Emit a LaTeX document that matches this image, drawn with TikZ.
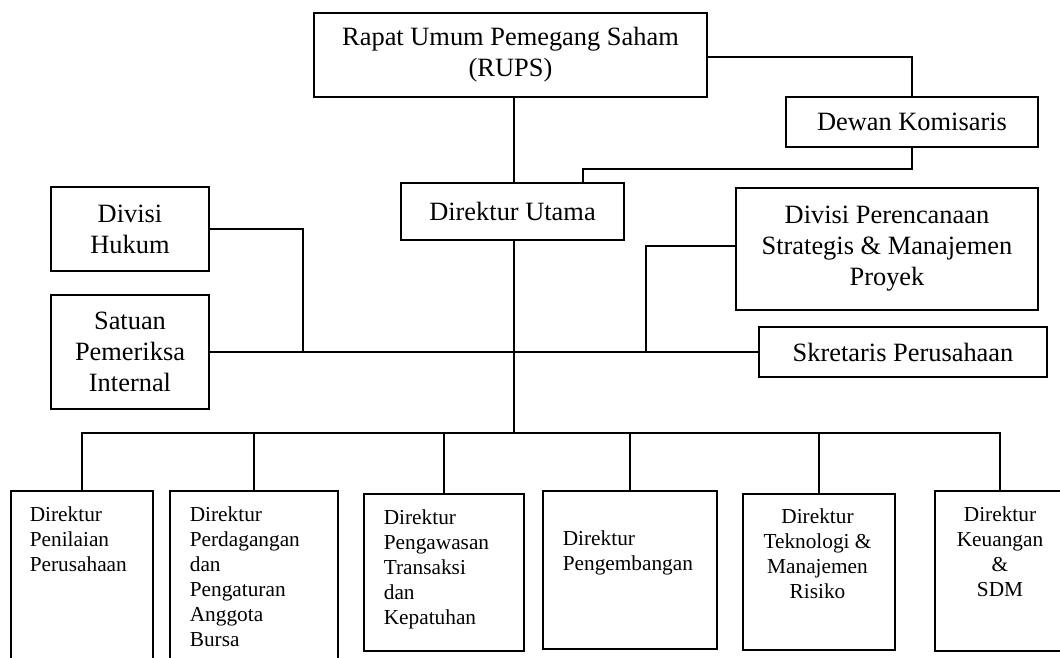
\documentclass[tikz,border=0pt]{standalone}
\usepackage{fontspec}
\setmainfont{Liberation Serif}
\begin{document}
\begin{tikzpicture}[x=1pt,y=-1pt,
  line width=1.7pt,
  box/.style={draw, rectangle, inner sep=0pt, align=center,
    font=\fontsize{26.4}{31}\selectfont},
  dirbox/.style={draw, rectangle, inner sep=0pt, anchor=north west},
  dirtext/.style={inner sep=0pt, font=\fontsize{21.3}{25}\selectfont},
]
\useasboundingbox (0,0) rectangle (1060,657);
\clip (0,0) rectangle (1060,657);

% upper level
\node[box, minimum width=393pt, minimum height=84pt] (rups) at (510.5,55)
  {Rapat Umum Pemegang Saham\\(RUPS)};
\node[box, minimum width=252pt, minimum height=50pt] (dk) at (912,122)
  {Dewan Komisaris};
\node[box, minimum width=223pt, minimum height=57pt] (du) at (512.5,211.5)
  {Direktur Utama};
\node[box, minimum width=158pt, minimum height=84pt] (dh) at (130,229)
  {Divisi\\Hukum};
\node[box, minimum width=158pt, minimum height=114pt] (spi) at (130,352)
  {Satuan\\Pemeriksa\\Internal};
\node[box, minimum width=302pt, minimum height=122pt] (dps) at (887,249)
  {Divisi Perencanaan\\Strategis \& Manajemen\\Proyek};
\node[box, minimum width=288pt, minimum height=50pt] (sk) at (903,352)
  {Skretaris Perusahaan};

% directors
\node[dirbox, minimum width=142pt, minimum height=180pt] (b1) at (10,490) {};
\node[dirbox, minimum width=168pt, minimum height=180pt] (b2) at (169,490) {};
\node[dirbox, minimum width=160pt, minimum height=157pt] (b3) at (363,493) {};
\node[dirbox, minimum width=174pt, minimum height=158pt] (b4) at (542,490) {};
\node[dirbox, minimum width=152pt, minimum height=156pt] (b5) at (742,493) {};
\node[dirbox, minimum width=130pt, minimum height=160pt] (b6) at (934,490) {};

\node[dirtext, anchor=north west, align=left] (t1) at (29,506)
  {Direktur\\Penilaian\\Perusahaan};
\node[dirtext, anchor=north west, align=left] (t2) at (189,506)
  {Direktur\\Perdagangan\\dan\\Pengaturan\\Anggota\\Bursa};
\node[dirtext, anchor=north west, align=left] (t3) at (383,509)
  {Direktur\\Pengawasan\\Transaksi\\dan\\Kepatuhan};
\node[dirtext, anchor=north west, align=left] (t4) at (562,530)
  {Direktur\\Pengembangan};
\node[dirtext, anchor=north, align=center] (t5) at (817.5,508)
  {Direktur\\Teknologi \&\\Manajemen\\Risiko};
\node[dirtext, anchor=north, align=center] (t6) at (1000,506)
  {Direktur\\Keuangan\\\&\\SDM};

% connectors
\coordinate (duin) at (583,183);
\coordinate (bus) at (514,433);
\coordinate (hline) at (303,352);
\coordinate (pline) at (646,352);

\draw (du.north -| 514,0) -- (rups.south -| 514,0);
\draw (rups.east |- 0,57) -| (dk.north);
\draw (dk.south) -- ++(0,21) -| (duin);
\draw (du.south -| 514,0) -- (bus);
\draw (spi.east) -- (sk.west);
\draw (dh.east) -| (hline);
\draw (dps.west |- 0,246) -| (pline);
\draw (b1.north) |- (bus) -| (b6.north);
\foreach \b in {b2,b3,b4,b5} \draw (\b.north) -- (\b.north |- bus);
\end{tikzpicture}
\end{document}
